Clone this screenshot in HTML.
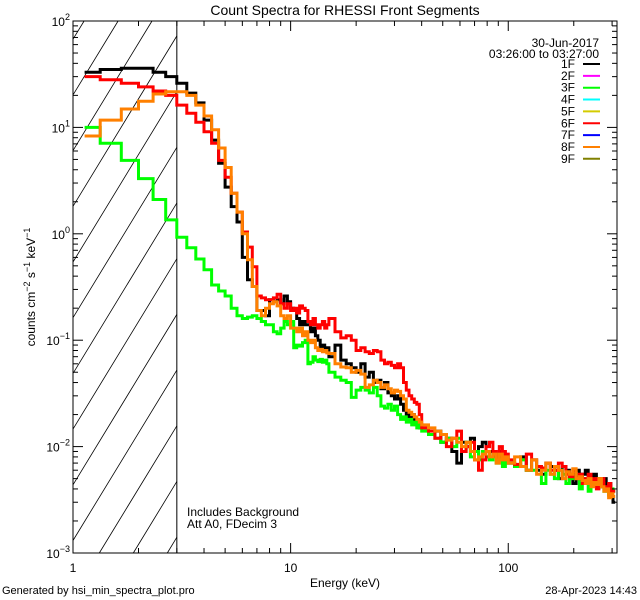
<!DOCTYPE html>
<html><head><meta charset="utf-8"><style>
html,body{margin:0;padding:0;background:#fff;width:640px;height:600px;overflow:hidden;}
svg{display:block;font-family:"Liberation Sans",sans-serif;}
</style></head><body>
<svg id="chart" width="640" height="600" viewBox="0 0 640 600" xmlns="http://www.w3.org/2000/svg">
<rect x="0" y="0" width="640" height="600" fill="#fff"/>
<text x="345" y="15" font-size="14" text-anchor="middle">Count Spectra for RHESSI Front Segments</text>
<g id="hatch"></g>
<g id="series"></g>
<g id="axes"></g>
<text x="345" y="587" font-size="12" text-anchor="middle">Energy (keV)</text>
<text transform="translate(35,287) rotate(-90)" font-size="12" text-anchor="middle">counts cm<tspan dy="-5" font-size="9">−2</tspan><tspan dy="5"> s</tspan><tspan dy="-5" font-size="9">−1</tspan><tspan dy="5"> keV</tspan><tspan dy="-5" font-size="9">−1</tspan></text>
<text x="187" y="516" font-size="12">Includes Background</text>
<text x="187" y="528" font-size="12">Att A0, FDecim 3</text>
<text x="599" y="47" font-size="12" text-anchor="end">30-Jun-2017</text>
<text x="599" y="58" font-size="12" text-anchor="end">03:26:00 to 03:27:00</text>
<g id="legend"></g>
<text x="2" y="594" font-size="11">Generated by hsi_min_spectra_plot.pro</text>
<text x="637" y="594" font-size="11" text-anchor="end">28-Apr-2023 14:43</text>
</svg>
<script>
const energyEdges = [1.13,1.333,1.667,2,2.333,2.667,3,3.333,3.667,4,4.333,4.667,5,5.333,5.667,6,6.333,6.667,7,7.333,7.667,8,8.333,8.667,9,9.333,9.667,10,10.333,10.667,11,11.333,11.667,12,12.333,12.667,13,13.333,13.667,14,14.333,14.667,15,
16,17,18,19,20,21,22,23,24,25,26,27,28,29,30,31,32,33,34,35,36,37,38,39,40,
43,46,49,52,55,58,61,64,67,70,73,76,79,82,85,88,91,94,97,100,
107,114,121,128,135,142,149,156,163,170,177,184,191,198,205,212,219,226,233,240,247,254,261,268,275,282,289,296,303,310];
const counts1F = [33,35,36,36,33,30,26,21,17,11.7,7.6,4.6,2.75,1.8,1.29,0.6,0.37,0.32,0.19,0.19,0.17,0.24,0.23,0.24,0.22,0.26,0.23,0.2,0.19,0.16,0.14,0.15,0.14,0.14,0.12,0.13,0.11,0.1,0.08,0.09,0.08,0.085,
0.07,0.09,0.065,0.06,0.055,0.05,0.06,0.045,0.05,0.04,0.042,0.035,0.04,0.032,0.03,0.028,0.03,0.025,0.022,0.02,0.019,0.02,0.017,0.016,0.015,
0.015,0.013,0.014,0.011,0.012,0.009,0.007,0.011,0.01,0.012,0.009,0.01,0.011,0.008,0.009,0.0085,0.008,0.009,0.008,0.0075,
0.007,0.0065,0.008,0.006,0.0075,0.006,0.0055,0.007,0.0065,0.006,0.005,0.0065,0.006,0.0055,0.0045,0.006,0.005,0.0055,0.006,0.005,0.0045,0.0055,0.005,0.0042,0.0045,0.005,0.004,0.0045,0.0035,0.003];
const counts3F = [10,7.1,4.9,3.3,2.1,1.35,0.93,0.74,0.58,0.46,0.33,0.29,0.26,0.2,0.17,0.16,0.165,0.17,0.16,0.15,0.14,0.14,0.12,0.115,0.13,0.15,0.14,0.15,0.085,0.09,0.088,0.095,0.1,0.06,0.062,0.07,0.065,0.063,0.066,0.062,0.065,0.06,
0.05,0.045,0.042,0.04,0.029,0.034,0.036,0.034,0.032,0.036,0.03,0.024,0.023,0.025,0.022,0.024,0.02,0.018,0.019,0.017,0.018,0.016,0.017,0.015,0.016,
0.014,0.013,0.012,0.011,0.012,0.01,0.012,0.009,0.011,0.008,0.009,0.0075,0.009,0.008,0.0075,0.0085,0.007,0.008,0.0065,0.0075,
0.007,0.0065,0.0075,0.006,0.006,0.0065,0.0045,0.006,0.0055,0.005,0.006,0.0055,0.0045,0.005,0.0055,0.005,0.004,0.0045,0.005,0.0038,0.0045,0.0043,0.005,0.0042,0.0045,0.0038,0.004,0.0035,0.004,0.0038];
const counts6F = [30,28,26,24,22,20,16.2,13.6,11.2,9.1,7.1,4.9,3.4,2.4,1.6,1.04,0.75,0.49,0.26,0.25,0.24,0.24,0.25,0.27,0.22,0.2,0.22,0.19,0.2,0.18,0.21,0.2,0.19,0.15,0.14,0.16,0.14,0.13,0.14,0.15,0.13,0.14,
0.16,0.12,0.105,0.11,0.1,0.08,0.085,0.078,0.075,0.08,0.078,0.065,0.06,0.062,0.058,0.055,0.06,0.055,0.04,0.034,0.03,0.028,0.026,0.025,0.02,
0.015,0.014,0.012,0.013,0.01,0.012,0.014,0.009,0.01,0.011,0.0075,0.006,0.0075,0.01,0.011,0.009,0.008,0.01,0.009,0.0085,
0.0075,0.0068,0.0065,0.0085,0.0075,0.0065,0.0063,0.007,0.006,0.006,0.007,0.0065,0.0055,0.0052,0.006,0.005,0.0055,0.0045,0.005,0.0055,0.0048,0.005,0.004,0.0045,0.005,0.0042,0.004,0.0045,0.0035,0.0038];
const counts8F = [8.3,11.7,14.9,17.6,20.6,21.6,21.6,20,16.2,12.8,9.5,6.4,4.2,2.4,1.6,1.0,0.57,0.32,0.19,0.17,0.2,0.22,0.23,0.21,0.17,0.16,0.17,0.13,0.13,0.12,0.13,0.11,0.12,0.1,0.095,0.1,0.085,0.08,0.082,0.078,0.08,0.076,
0.075,0.06,0.056,0.055,0.05,0.052,0.048,0.036,0.038,0.042,0.04,0.036,0.038,0.035,0.032,0.034,0.033,0.03,0.028,0.022,0.021,0.02,0.019,0.018,0.017,
0.016,0.015,0.014,0.013,0.0115,0.012,0.011,0.01,0.011,0.009,0.0075,0.008,0.0085,0.009,0.008,0.0085,0.007,0.0085,0.0075,0.008,
0.007,0.008,0.0065,0.006,0.0075,0.0055,0.006,0.007,0.0055,0.0065,0.006,0.005,0.0058,0.0055,0.0062,0.005,0.0052,0.0048,0.0045,0.005,0.0042,0.0046,0.0044,0.005,0.0042,0.0038,0.004,0.0033,0.0036,0.0034];
const legendLabels = ["1F","2F","3F","4F","5F","6F","7F","8F","9F"];
const legendColors = ["#000000","#ff00ff","#00ff00","#00ffff","#d4cc00","#ff0000","#0000ff","#ff8000","#808000"];
const xTickLabels = ["1","10","100"];
const yTickExponents = ["2","1","0","-1","-2","-3"];
const xMin = 1, xMax = 316, yMin = 1e-3, yMax = 100;
const L = 73, R = 617, T = 21, B = 553;
const NS = "http://www.w3.org/2000/svg";
function xs(e){return L + (Math.log10(e)-Math.log10(xMin))/(Math.log10(xMax)-Math.log10(xMin))*(R-L);}
function ys(v){return B - (Math.log10(v)-Math.log10(yMin))/(Math.log10(yMax)-Math.log10(yMin))*(B-T);}
function mk(tag, attrs, parent){const el=document.createElementNS(NS,tag);for(const k in attrs)el.setAttribute(k,attrs[k]);parent.appendChild(el);return el;}

const hatch = document.getElementById('hatch');
const hx1 = xs(3);
const slope = 1.64;
for(let k=-6;k<14;k++){
  const yAt = 91.7 + k*55.7;
  const t0 = Math.max(0, (T - yAt)/slope);
  const t1 = Math.min(hx1 - L, (B - yAt)/slope);
  if(t1 <= t0) continue;
  const ln = mk('line',{x1:(hx1-t0).toFixed(1),y1:(yAt+slope*t0).toFixed(1),x2:(hx1-t1).toFixed(1),y2:(yAt+slope*t1).toFixed(1),stroke:'#000','stroke-width':0.8},hatch);
  
  
}
const vline = mk('line',{x1:hx1,y1:T,x2:hx1,y2:B,stroke:'#000','stroke-width':1},hatch);



const sg = document.getElementById('series');
const seriesList = [[counts1F,"#000000","series-1f"],[counts3F,"#00ff00","series-3f"],[counts6F,"#ff0000","series-6f"],[counts8F,"#ff8000","series-8f"]];
seriesList.forEach(([vals,col,name])=>{
  let d='';
  for(let i=0;i<vals.length;i++){
    const x0=xs(energyEdges[i]).toFixed(1), x1=Math.min(R, xs(energyEdges[i+1])).toFixed(1);
    const y=Math.min(B, Math.max(T, ys(vals[i]))).toFixed(1);
    d += (i===0?'M':'L')+x0+','+y+'L'+x1+','+y;
  }
  const p = mk('path',{d:d,fill:'none',stroke:col,'stroke-width':3,'stroke-linejoin':'miter'},sg);
  
  
});

const ax = document.getElementById('axes');
const frame = mk('rect',{x:L,y:T,width:R-L,height:B-T,fill:'none',stroke:'#000','stroke-width':1},ax);


for(let dec=0; dec<3; dec++){
  for(let m=1;m<10;m++){
    const e = Math.pow(10,dec)*m;
    if(e>xMax) break;
    const x = xs(e), len = m===1?10:5;
    mk('line',{x1:x,y1:B,x2:x,y2:B-len,stroke:'#000','stroke-width':1},ax);
    mk('line',{x1:x,y1:T,x2:x,y2:T+len,stroke:'#000','stroke-width':1},ax);
  }
}
xTickLabels.forEach(lbl=>{
  const t = mk('text',{x:xs(parseFloat(lbl)),y:572,'font-size':12,'text-anchor':'middle'},ax);
  t.textContent = lbl;
  
  
});
for(let p=-3;p<=2;p++){
  for(let m=1;m<10;m++){
    const v = Math.pow(10,p)*m;
    if(v>yMax) break;
    const y = ys(v), len = m===1?10:5;
    mk('line',{x1:L,y1:y,x2:L+len,y2:y,stroke:'#000','stroke-width':1},ax);
    mk('line',{x1:R,y1:y,x2:R-len,y2:y,stroke:'#000','stroke-width':1},ax);
  }
}
yTickExponents.forEach(ex=>{
  const y = ys(Math.pow(10,parseFloat(ex)));
  const t = mk('text',{x:70,y:y+5,'font-size':12,'text-anchor':'end'},ax);
  t.innerHTML = '10<tspan dy="-6" font-size="9">'+ex.replace('-','−')+'</tspan>';
  
  
});

const lg = document.getElementById('legend');
legendLabels.forEach((lbl,i)=>{
  const y = 64 + i*11.85;
  const t = mk('text',{x:575,y:y+4,'font-size':12,'text-anchor':'end'},lg);
  t.textContent = lbl;
  
  
  const l = mk('line',{x1:583,y1:y,x2:600,y2:y,stroke:legendColors[i],'stroke-width':2},lg);
  
  
});
</script>
</body></html>
